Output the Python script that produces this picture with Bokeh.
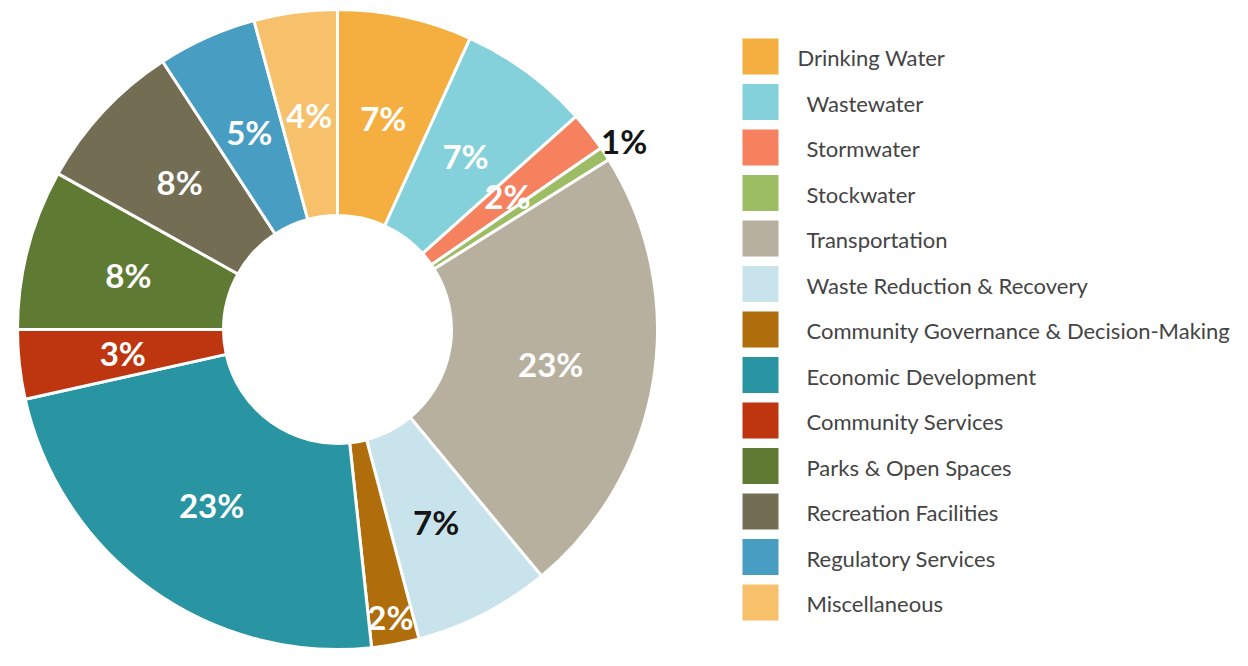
import math
from bokeh.plotting import figure
from bokeh.models import Range1d, ColumnDataSource
from bokeh.core.properties import value
from bokeh.embed import file_html
from bokeh.resources import INLINE

categories = ["Drinking Water", "Wastewater", "Stormwater", "Stockwater", "Transportation",
              "Waste Reduction & Recovery", "Community Governance & Decision-Making",
              "Economic Development", "Community Services", "Parks & Open Spaces",
              "Recreation Facilities", "Regulatory Services", "Miscellaneous"]
shares = [6.8, 6.6, 2.0, 0.7, 22.9, 6.9, 2.4, 23.2, 3.5, 8.1, 7.7, 5.0, 4.2]
pct_labels = ["7%", "7%", "2%", "1%", "23%", "7%", "2%", "23%", "3%", "8%", "8%", "5%", "4%"]
colors = ["#F5AF41", "#85D1DB", "#F5815F", "#9DBD65", "#B7B09E", "#C9E3EC", "#AF6E0B",
          "#2A95A2", "#BE3610", "#5F7A33", "#736D54", "#479DC2", "#F7C06A"]

W, H = 1232, 650
p = figure(width=W, height=H, output_backend="svg", toolbar_location=None,
           x_range=Range1d(0, W), y_range=Range1d(0, H), min_border=0)
p.axis.visible = False
p.grid.visible = False
p.outline_line_color = None
p.background_fill_color = "white"

def Y(py):
    return H + 1 - py

cx, cy = 337, Y(330)
R_out, R_in = 320, 114
total = sum(shares)

starts, ends, lx, ly, lcol = [], [], [], [], []
label_r = {3: 343, 6: 292}
dark = {3, 5}
acc = 0.0
for i, s in enumerate(shares):
    c0 = acc / total * 2 * math.pi
    acc += s
    c1 = acc / total * 2 * math.pi
    starts.append(math.pi / 2 - c1)
    ends.append(math.pi / 2 - c0)
    mid = (c0 + c1) / 2
    r = label_r.get(i, 216)
    lx.append(cx + r * math.sin(mid))
    ly.append(cy + r * math.cos(mid))
    lcol.append("#151515" if i in dark else "white")

src = ColumnDataSource(dict(start=starts, end=ends, color=colors))
p.annular_wedge(x=cx, y=cy, inner_radius=R_in, outer_radius=R_out, start_angle="start",
                end_angle="end", fill_color="color", line_color="white", line_width=3,
                source=src)

lsrc = ColumnDataSource(dict(x=lx, y=ly, t=pct_labels, c=lcol))
p.text(x="x", y="y", text="t", text_color="c", source=lsrc, text_align="center",
       text_baseline="middle", text_font=value("Lato"), text_font_size="33px",
       text_font_style="bold")

# legend
row_y = [Y(57 + 45.5 * i) for i in range(len(categories))]
p.rect(x=[760] * len(categories), y=row_y, width=36, height=36, fill_color=colors,
       line_color=None)
tx = [797 if i == 0 else 806 for i in range(len(categories))]
p.text(x=tx, y=[y - 1 for y in row_y], text=categories, text_color="#444444",
       text_align="left", text_baseline="middle", text_font=value("Lato"),
       text_font_size="22px")

open("out.html", "w").write(file_html(p, INLINE))
